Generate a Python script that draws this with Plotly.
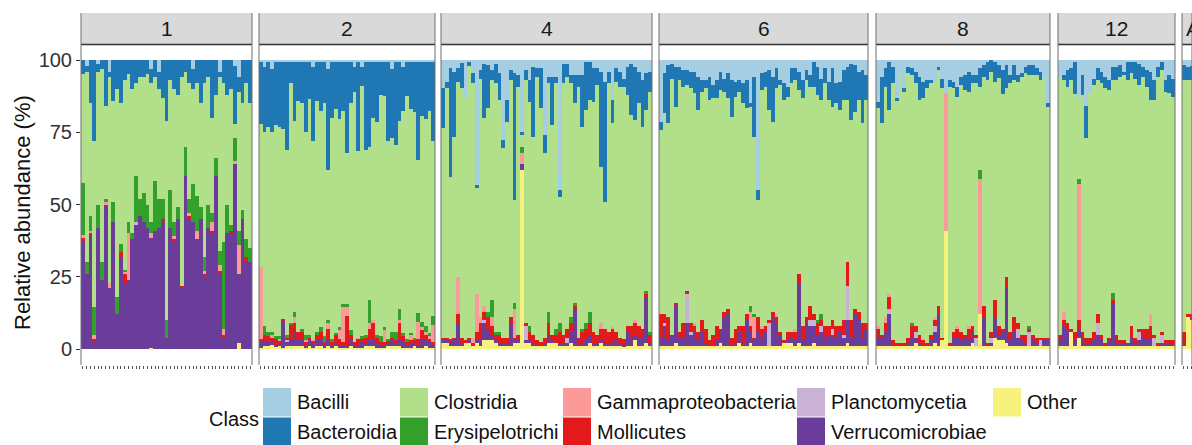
import plotly.graph_objects as go

# ---------------- data ----------------
FACET_LABELS = ["1", "2", "4", "6", "8", "12", "A"]
FACET_SIZES = [45, 47, 56, 56, 46, 31, 3]

CLASSES = ["Bacilli", "Bacteroidia", "Clostridia", "Erysipelotrichi",
           "Gammaproteobacteria", "Mollicutes", "Planctomycetia",
           "Verrucomicrobiae", "Other"]

BACILLI = [
    0, 2, 0, 0, 1.5, 0, 0, 4, 0, 0, 0, 0, 0, 0, 0, 0, 0, 0, 3, 0, 4, 0, 0, 0, 0, 0, 0, 0, 0, 3, 0, 0, 0, 0, 0, 0, 4, 0, 0, 0, 2, 6, 0, 0, 0,
    0.5, 2.5, 0.5, 3, 0.5, 0.5, 0.5, 0.5, 0.5, 0.5, 0.5, 0.5, 0.5, 0.5, 2.5, 0.5, 0.5, 0.5, 3, 0.5, 0.5, 0.5, 0.5, 0.5, 0.5, 2.5, 0.5, 2.5, 0.5, 0.5, 0.5, 0.5, 0.5, 0.5, 0.5, 3, 0.5, 0.5, 2.5, 0.5, 0.5, 0.5, 0.5, 0.5, 0.5, 0.5, 0.5,
    9.8, 7.5, 2.9, 4, 2.9, 1, 13.3, 0.5, 4.6, 43.2, 3.5, 1.2, 1.7, 3.5, 1.2, 4.6, 27.7, 13.8, 3.5, 4.6, 5.2, 25, 3.5, 6.9, 2.3, 2.9, 2.9, 25.9, 5.8, 5.8, 5.8, 45, 1.2, 1.2, 5.2, 5.2, 5.2, 5.2, 0.6, 0.6, 2.9, 2.9, 4, 7.5, 4, 13.8, 2.9, 4, 6.4, 2.3, 1.2, 2.3, 4, 6.9, 4.6, 4,
    21.3, 4.6, 1.7, 1.2, 2.3, 2.3, 3.5, 3.5, 4, 4, 5.8, 6.9, 6.9, 5.8, 8.7, 6.9, 4, 6.4, 4.6, 6.9, 7.5, 6.9, 8.1, 6.9, 15, 5.8, 45, 4.6, 4, 3.5, 5.8, 2.9, 6.9, 8.1, 9.2, 2.9, 2.9, 4, 6.9, 3.5, 5.2, 0.6, 2.3, 6.4, 2.9, 7.5, 2.9, 8.1, 7.5, 3.5, 2.3, 1.2, 1.7, 4, 3.5, 5.2,
    14.4, 5.8, 2.9, 0.6, 2.3, 13.3, 4, 9.8, 2.3, 2.9, 4, 5.8, 7.5, 6.9, 6.9, 7.5, 2.3, 6.4, 11.5, 6.9, 7.5, 9.2, 5.8, 5.2, 4, 5.2, 5.2, 2.9, 1.7, 0.6, 0, 0.6, 1.7, 3.5, 1.7, 5.2, 1.7, 5.2, 4.6, 2.3, 1.7, 1.7, 2.9, 4, 5.8, 15,
    5.8, 5.2, 3.5, 2.9, 0.6, 12.7, 5.2, 16, 11.5, 6.4, 2.9, 4, 5.8, 6.9, 2.3, 2.3, 1.7, 4, 0.6, 0.6, 0.6, 1.2, 2.3, 3.5, 4, 6.9, 2.3, 0.6, 6.9, 5.2, 6.4,
    1.7, 2.3, 2,
]
BACTEROIDIA = [
    5, 2, 15, 28, 2.5, 3, 16, 2, 14, 10, 15, 7, 5, 10, 8, 6, 6, 5, 5, 6, 6, 13, 21, 7, 10, 12, 6, 4, 8, 7, 8, 15, 8, 6, 20, 12, 2, 8, 12, 10, 20, 5, 15, 8, 15,
    21.5, 22.5, 22.5, 22, 22, 22.5, 23.5, 30.5, 7.5, 20.5, 13.5, 14.5, 24.5, 13, 25.5, 13.5, 17, 14.5, 35, 19.5, 16.5, 20, 17, 31.5, 14.5, 8.5, 31, 6.5, 30.5, 29.5, 19.5, 21, 11.5, 12, 27.5, 24, 29, 20.5, 15, 12, 16.5, 17.5, 34, 19, 20, 17, 27.5,
    13.8, 2.3, 37.5, 22.5, 4.6, 8.8, 0, 1.5, 3.5, 1.2, 2.9, 19, 15, 3.4, 6.9, 9.2, 2.9, 7.5, 3.4, 43.8, 4, 1, 3.4, 7.5, 24.2, 2.9, 13.8, 6.4, 2.3, 16.7, 2.3, 2.3, 6.9, 4.6, 2.9, 9.8, 4, 17.9, 16.7, 13.2, 11.5, 5.8, 32.9, 41.5, 4.1, 8.1, 4.6, 5.2, 2.8, 9.8, 17.8, 18.5, 11, 16.2, 12.7, 7,
    2.9, 13.8, 20.2, 5.2, 13.9, 4.6, 5.7, 5.2, 5.8, 7.5, 11.5, 4.1, 2.9, 8, 4.6, 6.4, 6.4, 4.6, 8.7, 12.7, 5.2, 4.1, 6.9, 9.8, 1.2, 20.7, 3.4, 5.8, 5.2, 13.8, 15.5, 6.9, 1.8, 5.7, 3.5, 5.2, 4, 6.4, 6.4, 3.4, 4, 8.6, 9.8, 7.4, 5.2, 6.3, 13.3, 6.9, 9.8, 10.3, 11.5, 19.6, 16.2, 9.8, 18.4, 8.6,
    2.3, 16.1, 6.3, 16.7, 5.8, 0.6, 0, 1.2, 2.3, 2.3, 4, 8, 5.8, 2.9, 1.2, 0, 1.2, 3.4, 0, 2.3, 2.3, 3.5, 2.9, 5.2, 7, 2.9, 2.9, 6.3, 4, 6.3, 4, 6.9, 4.6, 8.1, 8.1, 2.9, 5.2, 2.3, 1.2, 2.3, 3.5, 3.5, 2.3, 2.9, 0, 1.2,
    0, 1.7, 5.8, 4, 11, 0, 6.9, 11, 0, 2.3, 4, 4, 4, 3.5, 4.6, 4.6, 4, 1.2, 6.3, 4, 5.8, 7.5, 3.5, 5.7, 9.8, 6.9, 3.5, 2.9, 4.1, 6.3, 6.4,
    5.2, 4.6, 5,
]
CLOSTRIDIA = [
    37.5, 66, 39, 57.5, 46, 67, 32, 71, 35, 72, 48.5, 65.5, 51, 50, 32, 42, 40, 45, 48, 36, 38, 35, 69, 38, 46, 39, 72, 26, 40, 33, 39, 36, 60, 44, 33, 22, 60, 55, 38, 47, 5, 48, 37, 54, 50,
    49.5, 67, 71, 69, 73, 72.5, 65.5, 64, 83, 66, 80, 78, 70, 81.5, 68.5, 80, 75, 80.5, 52, 76.5, 77.5, 72, 67, 52.5, 78.5, 86.5, 64.5, 86.5, 64, 53, 70, 73.5, 83.5, 80, 68.5, 67, 64.5, 65, 77, 84, 77.5, 78, 53, 71, 71.5, 77, 60.5,
    72.4, 86.2, 56.1, 69.5, 67.5, 86.2, 83.7, 94, 87.9, 36.6, 82.6, 64.8, 70.3, 76.1, 85.9, 80.2, 65.4, 74.7, 82.1, 35.6, 85.8, 4, 84.1, 77.6, 68.5, 91.2, 80.8, 63.7, 78.9, 72.5, 84.9, 43.7, 86.9, 87.2, 80.9, 69, 86.8, 69.9, 73.7, 73.2, 79.6, 86.3, 54.1, 44, 85.9, 70.1, 86.5, 86.8, 87.3, 79.9, 73, 69.2, 77, 69.9, 62.7, 83,
    63.8, 69.6, 67.1, 88.6, 67.8, 87.1, 81.8, 71.3, 81.2, 79.5, 76.7, 79, 83.2, 83.2, 81.7, 78.7, 82.6, 76, 72.7, 76.4, 80.3, 81, 77, 71.3, 68.8, 61.5, 40.6, 81.6, 82.8, 72.7, 65.7, 78.2, 85.3, 83.2, 81.3, 85.9, 86.1, 63.6, 78.7, 82.1, 75.8, 78.8, 77.9, 74.2, 83.9, 78.2, 73.8, 77, 74.7, 76.2, 56.2, 69.2, 68.1, 73.2, 69.1, 77.2,
    75.3, 73.1, 79.8, 63.7, 88.9, 84.1, 94, 87, 91.4, 85.8, 84, 81.2, 83.7, 88.2, 86.9, 81.5, 81.5, 86.2, 0, 88.8, 84.2, 79.3, 85.3, 84.6, 81, 83.9, 86.9, 28.8, 79.3, 91.1, 90, 75.5, 85.7, 81.4, 65.2, 85.9, 82.1, 83.5, 89.2, 90.4, 86.8, 89.8, 90.8, 89.1, 90.2, 79.8,
    89.2, 80.1, 81.7, 86.1, 82.4, 28.3, 81.9, 69, 84.5, 85.3, 81.1, 87, 88.2, 85.6, 73.6, 88.1, 91.3, 91.8, 91.1, 87.4, 89.6, 84.3, 87.2, 83.8, 74.2, 81.2, 92.2, 90.5, 86, 85.5, 84.2,
    87.1, 81.1, 81,
]
ERYSIPELOTRICHI = [
    18, 4, 5, 9.5, 8, 6, 1, 0, 7, 6, 3, 0.5, 4, 2, 16, 6, 10, 8, 4, 17, 10, 7, 6, 13, 5, 4, 0, 10, 5, 13, 12, 4, 5, 8, 3, 6, 5, 30, 10, 2, 8, 5, 3, 6, 5,
    0, 3, 1.5, 1, 1, 1, 0, 1, 0.5, 2, 0, 1, 2, 1, 0, 1, 1.5, 2, 1, 1, 0.5, 1, 1, 1, 1.5, 0, 0, 1, 1, 8, 0, 1, 2, 1, 0.5, 2, 3, 4, 1, 1, 0.5, 1, 3, 2, 2, 1, 3,
    0, 0, 0, 0, 0, 0, 0, 0, 0, 0, 0, 0, 2, 6, 1, 1, 0, 0, 0, 2, 0, 2, 0, 2, 0, 0, 0, 0, 4, 0, 2, 3, 0, 0, 2, 1, 0, 1, 2, 4, 0, 0, 0, 0, 0, 0, 0, 0, 0, 0, 0, 0, 0, 0, 1, 1,
    0, 0, 0, 0, 0, 0, 0, 0, 0, 0, 0, 0, 0, 0, 0, 0, 0, 0, 0, 0, 0, 0, 0, 0, 2, 1, 0, 0, 0, 0, 0, 0, 0, 0, 0, 0, 0, 0, 0, 0, 0, 0, 1, 2, 0, 0, 0, 0, 0, 0, 0, 0, 0, 0, 0, 0,
    0, 0, 0, 0, 0, 0, 0, 0, 0, 1, 0, 0, 0, 0, 0, 0, 0, 0, 0, 0, 0, 0, 0, 0, 0, 0, 0, 3, 0, 0, 0, 0, 0, 0, 0, 0, 0, 0, 0, 0, 1, 0, 0, 0, 0, 0,
    0, 0, 0, 0, 0, 2, 0, 0, 0, 0, 0, 0, 0, 0, 2.5, 0, 0, 0, 0, 0, 0, 0, 0, 0, 0, 0, 0, 0, 0, 0, 0,
    0, 0, 0,
]
GAMMAPROTEOBACTERIA = [
    1, 0, 0.5, 1.5, 0, 0, 1, 2, 0, 0, 0, 1, 16, 0, 0, 0, 0, 0, 1.5, 0, 0, 0, 0, 0, 1, 0, 0, 0, 1, 0, 3, 0, 1, 0, 3, 0, 2, 2, 0, 0, 1, 10, 0, 0, 0,
    25, 0, 0, 1, 0, 0.5, 0, 0, 0, 2, 0, 0, 0.5, 0, 0.5, 0, 0, 0, 2, 0, 0, 3, 12, 3, 0, 0, 0.5, 0, 0, 2, 1, 0, 0, 4, 0, 0, 0, 1, 0, 0, 2, 0, 6, 1, 1, 1, 6,
    0, 0, 0, 0, 13, 0, 0, 0, 2, 13, 2, 2, 0, 3, 0, 0, 0, 0, 0, 10, 0, 4, 0, 0, 0, 0, 0, 0, 0, 0, 0, 0, 0, 0, 0, 0, 0, 0, 0, 0, 0, 0, 2, 0, 0, 1, 0, 0, 0, 0, 0, 1, 0, 0, 0, 0,
    0, 0, 0, 0, 0, 0, 0, 0, 0, 1, 0, 0, 0, 0, 0, 0, 0, 0, 0, 0, 0, 0, 0, 0, 5, 7, 0, 1, 0, 0, 0, 1, 0, 0, 0, 0, 1, 0, 0, 0, 0, 0, 0, 0, 0, 0, 0, 0, 0, 0, 0, 0, 0, 0, 0, 0,
    1, 0, 2, 1, 0, 0, 0, 0, 0, 0, 0, 0, 0, 0, 0, 1, 0, 0, 47.5, 0, 0, 1, 0, 0, 1, 0, 0, 47, 0, 0, 0, 0, 0, 0, 0, 0, 0, 0, 0, 0, 0, 0, 0, 0, 0, 0,
    0, 3, 0, 0, 0, 47, 0, 0, 0, 0, 0, 0, 0, 0, 0, 0, 0, 0, 0, 0, 0, 0, 0, 0, 4, 0, 0, 0, 0, 0, 0,
    0, 0, 0,
]
MOLLICUTES = [
    1.5, 0, 1.5, 0.5, 0, 0, 0, 0, 0, 0, 1.5, 3, 0, 0, 0, 0, 0, 0, 0, 0, 0, 1, 0, 0, 1, 0, 1, 0, 1, 0, 0, 0, 1, 0, 1, 0, 1, 1, 0, 1, 0, 0, 0, 2, 0,
    1, 2, 2, 1.5, 2, 1, 1, 1, 5, 3, 3, 3, 1, 1, 1, 2, 3, 1, 4, 1, 3, 2, 1, 10, 2, 1, 2, 1, 2, 4, 6, 2, 1, 1, 1, 1, 1, 6, 2, 1, 1, 1, 2, 3, 2, 1, 1,
    1, 1, 1.5, 1, 3, 2, 1, 1, 1, 3, 6, 3, 4, 3, 2, 3, 2, 2, 2, 1, 2, 0, 1, 3, 3, 2, 1.5, 2, 4, 2, 3, 4, 3, 3, 3, 1, 3, 4, 4, 4, 4, 3, 4, 5, 4, 5, 3, 2, 2, 2, 4, 4, 4, 3, 1, 3,
    8, 3, 8, 0, 1, 2, 5, 1, 3, 2, 3, 4, 5, 2, 4, 5, 1, 2, 2, 3, 5, 2, 6, 2, 2, 1, 5, 3, 2, 1, 2, 2, 1, 1, 3, 2, 3, 3, 5, 2, 5, 2, 4, 2, 4, 3, 3, 4, 2, 5, 8, 6, 2, 3, 5, 2,
    3, 1, 3, 4, 2, 1, 1, 1, 2, 4, 2, 3, 2, 1, 2, 2, 3, 1, 0, 1, 2, 3, 3, 1, 4, 2, 1, 0, 4, 1, 2, 6, 3, 1, 4, 3, 5, 2, 2, 3, 1, 2, 2, 1, 1, 1,
    2, 2, 2, 1, 3, 3, 2, 2, 2, 3, 3, 2, 1, 1, 1, 3, 1, 1, 0, 4, 2, 1, 3, 4, 4, 1, 1, 1, 1, 1, 2,
    4, 1, 1,
]
PLANCTOMYCETIA = [
    0, 0, 0, 0, 0, 0, 0, 0, 0, 0, 0, 0, 0, 0, 1, 0, 0, 0, 0, 0, 0, 0, 0, 0, 0, 0, 0, 0, 0, 0, 0, 0, 0, 0, 0, 0, 0, 0, 0, 0, 0, 0, 0, 0, 0,
    0, 0, 0, 0, 0, 0, 0, 0.5, 0, 0, 0, 0, 0, 0, 0, 0, 0, 0, 0, 0, 0, 0, 0, 0, 0, 0, 0, 0, 0, 0, 0, 0, 0, 0, 0, 0, 0, 0, 0, 0, 0, 0, 0, 0, 0, 0, 0,
    0, 0, 0, 0, 0, 0, 0, 0, 0, 0, 0, 1, 0, 0, 0, 0, 0, 0, 0, 0, 0, 0, 5, 0, 0, 0, 0, 0, 0, 0, 0, 0, 0, 2, 0, 0, 0, 0, 0, 0, 0, 0, 0, 0, 0, 0, 0, 0, 0, 0, 0, 0, 0, 0, 0, 0,
    0, 1, 0, 0, 0, 0, 0, 10, 1, 0, 0, 0, 0, 0, 0, 0, 0, 0, 0, 0, 0, 0, 0, 0, 0, 0, 0, 0, 0, 8, 0, 0, 0, 0, 0, 0, 0, 0, 0, 0, 2, 2, 0, 2, 0, 0, 2, 0, 0, 1, 12, 0, 0, 0, 0, 0,
    0, 0, 0, 2, 0, 0, 0, 0, 0, 0, 2, 0, 0, 0, 0, 2, 0, 0, 0, 0, 0, 0, 0, 0, 0, 0, 3, 0, 0, 0, 2, 0, 0, 0, 0, 0, 0, 3, 0, 0, 5, 0, 0, 2, 0, 0,
    0, 0, 0, 0, 0, 0, 0, 0, 0, 0, 4, 0, 0, 0, 0, 0, 0, 0, 0, 0, 0, 3, 0, 0, 0, 3, 0, 3, 0, 0, 0,
    0, 0, 0,
]
VERRUCOMICROBIAE = [
    37, 26, 39, 3, 42, 24, 50, 21, 44, 12, 32, 23, 24, 38, 43, 46, 44, 42, 38, 41, 42, 44, 4, 42, 37, 45, 21, 60, 45, 44, 38, 45, 25, 42, 40, 60, 26, 4, 40, 40, 64, 24, 45, 30, 30,
    2, 2, 1.5, 1, 0.5, 1, 9, 1.5, 2.5, 5, 2, 2, 1, 2, 1.5, 2, 2, 1, 2, 1, 1, 1, 1, 1, 2, 1, 1, 2, 1, 2, 2, 1.5, 1, 1, 1, 2, 1, 2, 2, 1, 1.5, 1, 1, 3, 2, 2, 1,
    1, 1, 1, 2, 8, 1, 0, 1, 0, 1, 2, 6, 4, 2, 1, 1, 1, 1, 8, 1, 1, 2, 1, 1, 1, 0, 0, 1, 3, 1, 0, 1, 1, 1, 4, 13, 0, 1, 2, 3, 1, 1, 1, 1, 1, 1, 2, 1, 0.5, 5, 3, 2, 3, 3, 16, 1,
    3, 7, 2, 4, 13, 3, 3, 8, 4, 5, 2, 5, 1, 0, 0, 2, 4, 10, 11, 0, 1, 4, 1, 9, 4, 2, 5, 3, 5, 0, 10, 8, 4, 0, 1, 2, 2, 21, 2, 8, 7, 6, 4, 5, 3, 4, 4, 3, 5, 3, 8, 3, 11, 9, 3, 6,
    3, 3, 5, 11, 0, 0, 0, 0, 1, 3, 2, 1, 0, 0, 2, 4, 11, 0, 0, 0, 3, 3, 2, 3, 2, 4, 0, 0, 10, 0, 1, 7, 2, 3, 19, 2, 5, 3, 2, 1, 0, 2, 1, 0, 2, 2,
    2, 7, 6, 0, 2, 3, 3, 1, 1, 2, 4, 2, 0, 2, 15, 1, 1, 1, 1, 3, 1, 2, 3, 2, 3, 0, 0, 1, 1, 1, 0,
    1, 0, 1,
]
OTHER = [
    0, 0, 0, 0, 0, 0, 0, 0, 0, 0, 0, 0, 0, 0, 0, 0, 0, 0, 0.5, 0, 0, 0, 0, 0, 0, 0, 0, 0, 0, 0, 0, 0, 0, 0, 0, 0, 0, 0, 0, 0, 0, 2, 0, 0, 0,
    0.5, 1, 1, 1.5, 1, 1, 0.5, 1, 1, 1, 1, 1, 0.5, 1, 0.5, 1, 1, 0.5, 1, 0.5, 1, 0.5, 0.5, 0.5, 1, 0.5, 0.5, 0.5, 1, 1, 1, 0.5, 0.5, 0.5, 1, 1, 1, 1, 0.5, 0.5, 0.5, 1, 0.5, 0.5, 1, 0.5, 0.5,
    2, 2, 1, 1, 1, 1, 2, 2, 1, 2, 1, 3, 3, 3, 2, 1, 1, 1, 1, 2, 2, 62, 2, 2, 1, 1, 1, 1, 2, 2, 2, 1, 1, 1, 2, 1, 1, 1, 1, 2, 1, 1, 2, 1, 1, 1, 1, 1, 1, 1, 1, 3, 1, 1, 2, 1,
    1, 1, 1, 1, 2, 1, 1, 1, 1, 1, 1, 1, 1, 1, 1, 1, 2, 1, 1, 1, 1, 2, 1, 1, 2, 1, 1, 1, 1, 1, 1, 1, 1, 2, 2, 2, 1, 2, 1, 1, 1, 2, 1, 1, 1, 1, 1, 1, 1, 1, 2, 1, 1, 1, 1, 1,
    1, 1, 1, 1, 1, 1, 1, 1, 1, 1, 2, 1, 1, 1, 1, 2, 1, 3, 41, 1, 1, 1, 1, 1, 1, 2, 1, 12, 1, 1, 1, 4, 3, 3, 2, 1, 1, 1, 1, 1, 1, 1, 1, 1, 1, 1,
    1, 1, 1, 6, 1, 4, 1, 1, 1, 1, 1, 1, 1, 1, 1, 1, 1, 1, 1, 1, 1, 1, 1, 1, 1, 1, 1, 1, 1, 1, 1,
    1, 11, 10,
]

Y_TICKS = [0, 25, 50, 75, 100]

# ---------------- styling / layout constants ----------------
W, H = 1192, 445
COLORS = {
    "Bacilli": "#A6CEE3",
    "Bacteroidia": "#1F78B4",
    "Clostridia": "#B2DF8A",
    "Erysipelotrichi": "#33A02C",
    "Gammaproteobacteria": "#FB9A99",
    "Mollicutes": "#E31A1C",
    "Planctomycetia": "#CAB2D6",
    "Verrucomicrobiae": "#6A3D9A",
    "Other": "#F7F27E",
}
SERIES = {
    "Bacilli": BACILLI, "Bacteroidia": BACTEROIDIA, "Clostridia": CLOSTRIDIA,
    "Erysipelotrichi": ERYSIPELOTRICHI, "Gammaproteobacteria": GAMMAPROTEOBACTERIA,
    "Mollicutes": MOLLICUTES, "Planctomycetia": PLANCTOMYCETIA,
    "Verrucomicrobiae": VERRUCOMICROBIAE, "Other": OTHER,
}
PANEL_PX = [(81, 252), (259, 435), (441, 652), (659, 868), (876, 1050), (1058, 1175), (1182, 1192)]
PANEL_TOP, PANEL_BOT = 45, 365
STRIP_TOP = 13
FONT = "Liberation Sans, Arial, Helvetica, sans-serif"
BAR_PX = 3.77


def px(x):
    return x / W


def py(y):
    return 1 - y / H


fig = go.Figure()
layout = dict(
    width=W, height=H, margin=dict(l=0, r=0, t=0, b=0, pad=0),
    paper_bgcolor="white", plot_bgcolor="white",
    barmode="stack", barnorm="percent", bargap=0, showlegend=False,
    font=dict(family=FONT, color="#1a1a1a"),
)

shapes, annotations = [], []
start = 0
stack_order = CLASSES[::-1]  # first trace at the bottom
for i, (label, n) in enumerate(zip(FACET_LABELS, FACET_SIZES)):
    xname = "x" if i == 0 else f"x{i + 1}"
    axkey = "xaxis" if i == 0 else f"xaxis{i + 1}"
    x0, x1 = PANEL_PX[i]
    last = i == len(FACET_LABELS) - 1
    rng = [-0.5, -0.5 + (x1 - x0) / BAR_PX] if last else [-0.5, n - 0.5]
    layout[axkey] = dict(
        domain=[px(x0), px(x1)], range=rng, anchor="y",
        tickmode="array", tickvals=list(range(n)), ticks="outside", ticklen=3,
        tickwidth=1, tickcolor="#555555", showticklabels=False,
        showgrid=False, zeroline=False, showline=False, fixedrange=True,
    )
    xs = list(range(n))
    for cls in stack_order:
        vals = SERIES[cls][start:start + n]
        fig.add_trace(go.Bar(
            x=xs, y=vals, xaxis=xname, yaxis="y", width=1.0,
            marker=dict(color=COLORS[cls], line=dict(width=0)),
            name=cls, hoverinfo="skip",
        ))
    start += n

    # strip
    shapes.append(dict(type="rect", xref="paper", yref="paper",
                       x0=px(x0), x1=px(x1), y0=py(PANEL_TOP), y1=py(STRIP_TOP),
                       fillcolor="#D9D9D9", line=dict(width=0), layer="below"))
    shapes.append(dict(type="line", xref="paper", yref="paper",
                       x0=px(x0), x1=px(x1), y0=py(PANEL_TOP - 0.5), y1=py(PANEL_TOP - 0.5),
                       line=dict(color="#333333", width=1.5)))
    # panel side borders
    for xb in (x0, x1):
        shapes.append(dict(type="line", xref="paper", yref="paper",
                           x0=px(xb), x1=px(xb), y0=py(PANEL_BOT), y1=py(STRIP_TOP),
                           line=dict(color="#6e6e6e", width=1)))
    annotations.append(dict(
        text=label, xref="paper", yref="paper",
        x=px(x0 + 2) if last else px((x0 + x1) / 2),
        y=py((STRIP_TOP + PANEL_TOP) / 2),
        xanchor="left" if last else "center", yanchor="middle", showarrow=False,
        font=dict(size=21, color="#1a1a1a")))

layout["yaxis"] = dict(
    domain=[py(PANEL_BOT), py(PANEL_TOP)], range=[-5.5, 105.2], anchor="x",
    tickmode="array", tickvals=Y_TICKS, ticktext=[str(t) for t in Y_TICKS],
    ticks="outside", ticklen=4, tickwidth=1, tickcolor="#333333",
    tickfont=dict(size=20, color="#333333"),
    showgrid=False, zeroline=False, showline=False, fixedrange=True, automargin=False,
)
annotations.append(dict(text="Relative abundance (%)", xref="paper", yref="paper",
                        x=px(22), y=py(213), textangle=-90, showarrow=False,
                        xanchor="center", yanchor="middle",
                        font=dict(size=22, color="#111111")))

# legend (drawn as shapes + text, two rows, column-major like ggplot)
LEG_COLS_X = [263, 400, 563, 797, 993]
KEY_W = 28
ROW_Y = [(388, 416.5), (417.5, 446)]
annotations.append(dict(text="Class", xref="paper", yref="paper", x=px(207), y=py(419),
                        xanchor="left", yanchor="middle", showarrow=False,
                        font=dict(size=20, color="#111111")))
for idx, cls in enumerate(CLASSES):
    col, row = idx // 2, idx % 2
    kx = LEG_COLS_X[col]
    ky0, ky1 = ROW_Y[row]
    shapes.append(dict(type="rect", xref="paper", yref="paper",
                       x0=px(kx), x1=px(kx + KEY_W), y0=py(ky1), y1=py(ky0),
                       fillcolor=COLORS[cls], line=dict(width=0)))
    annotations.append(dict(text=cls, xref="paper", yref="paper",
                            x=px(kx + KEY_W + 4), y=py((ky0 + ky1) / 2),
                            xanchor="left", yanchor="middle", showarrow=False,
                            font=dict(size=20, color="#111111")))

layout["shapes"] = shapes
layout["annotations"] = annotations
fig.update_layout(**layout)

fig.write_html("out.html", config={"displayModeBar": False},
               post_script="document.body.style.margin='0';document.body.style.overflow='hidden';")
